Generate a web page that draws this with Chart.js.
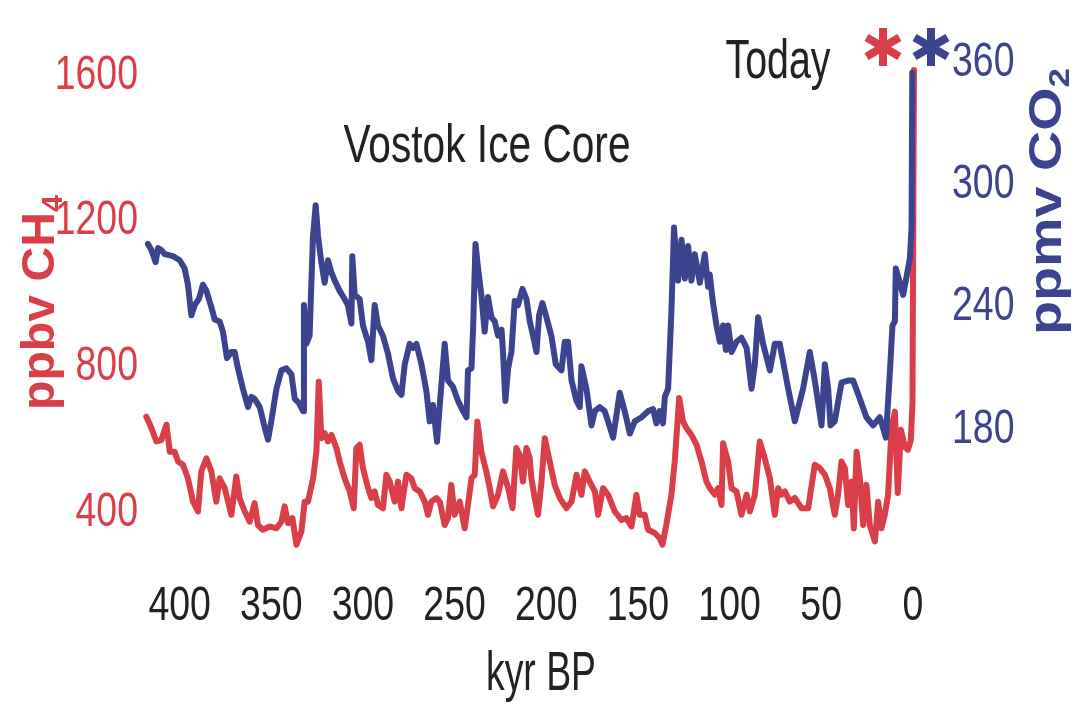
<!DOCTYPE html>
<html><head><meta charset="utf-8">
<script src="https://cdn.jsdelivr.net/npm/chart.js@4.4.1/dist/chart.umd.min.js"></script>
<style>html,body{margin:0;padding:0;background:#fff;}canvas{display:block;}</style>
</head><body>
<canvas id="c" width="1075" height="704"></canvas>
<script>
// ---- tick labels ----
const xTicks = [400, 350, 300, 250, 200, 150, 100, 50, 0];
const ch4Ticks = [400, 800, 1200, 1600];
const co2Ticks = [180, 240, 300, 360];

// ---- CO2 (ppmv) vs age (kyr BP) ----
const co2Age = [417.3,415.4,413.1,411.8,410.0,408.2,403.7,400.0,397.3,395.5,393.6,391.8,389.5,387.3,385.4,382.7,380.9,378.2,376.4,374.2,371.8,370.0,368.2,365.5,362.7,360.9,359.1,356.3,353.6,351.8,350.0,347.2,344.5,341.8,339.0,337.2,334.9,332.7,332.2,330.9,329.1,327.3,325.8,324.5,322.7,320.9,319.1,317.2,315.4,312.7,310.0,308.2,306.3,305.8,304.5,301.8,300.0,297.2,295.4,293.6,291.8,289.1,286.3,283.6,280.9,279.0,277.2,274.5,272.7,270.8,268.1,265.4,263.6,261.8,259.6,258.1,255.4,253.6,250.9,248.1,245.4,243.5,242.7,240.8,239.9,238.6,237.2,235.4,233.6,231.8,229.9,228.1,226.3,224.4,223.6,222.3,220.8,219.0,217.2,215.4,213.0,210.8,209.0,207.2,205.3,203.9,202.1,199.9,197.2,194.8,191.7,189.9,188.1,186.2,183.5,181.7,180.8,178.1,175.3,173.5,170.8,168.1,166.3,163.5,159.9,157.2,154.4,151.7,148.0,144.4,141.7,139.9,138.1,136.3,135.3,133.5,131.7,130.3,128.1,126.2,124.4,122.6,120.8,119.0,116.2,113.5,111.7,110.8,109.0,107.1,105.3,103.5,102.0,100.8,98.9,96.2,93.5,90.7,88.0,86.2,84.4,81.7,78.0,75.3,72.6,68.0,64.4,59.9,56.2,53.5,49.8,48.0,46.2,44.9,42.6,38.9,35.3,32.6,28.9,25.3,21.7,18.0,14.7,12.6,11.1,9.8,9.3,7.1,5.3,3.4,1.6,0.7,0.3];
const co2Ppmv = [271,268,262,269,268,266,265,263,259,251,236,241,244,251,248,240,234,233,228,215,218,218,210,200,191,196,195,191,181,175,184,200,209,210,207,195,193,189,241,222,226,274,290,275,262,252,263,257,253,248,244,241,232,265,246,244,231,223,214,241,231,226,217,205,199,197,212,222,220,222,212,199,184,192,174,192,222,204,201,194,189,186,209,210,230,271,259,246,228,245,235,233,226,229,218,194,210,218,243,241,249,244,233,226,218,236,242,235,226,212,209,223,223,204,194,191,211,200,182,189,191,189,184,176,198,189,178,184,186,189,190,183,189,183,196,200,238,279,253,273,254,270,253,266,252,266,250,256,242,231,223,231,219,231,218,223,225,220,200,212,235,222,209,222,222,200,184,200,218,204,182,212,200,182,184,203,204,204,195,186,182,186,176,207,231,233,259,252,246,255,264,279,355];

// ---- CH4 (ppbv) vs age (kyr BP) ----
const ch4Age = [418.2,415.4,412.7,410.0,407.2,405.4,402.7,400.9,398.2,395.5,392.7,390.0,388.2,385.4,382.7,380.0,378.2,375.4,373.6,371.8,369.1,367.3,364.5,361.8,359.1,357.3,354.6,350.9,347.2,344.5,342.7,340.9,338.5,336.3,333.6,331.8,330.0,327.2,325.4,324.1,322.7,320.9,319.1,317.2,314.5,312.7,310.0,307.2,305.0,303.6,301.8,300.0,297.2,295.4,293.6,291.8,289.1,287.2,285.4,282.7,280.9,279.0,276.3,273.6,271.8,269.0,266.3,264.5,262.7,259.9,258.1,255.4,253.6,251.8,250.0,247.2,244.5,242.7,240.8,239.0,237.6,235.4,232.7,230.8,229.0,226.3,223.6,220.8,218.4,216.3,214.5,212.7,210.8,209.0,208.1,206.3,204.5,202.6,200.8,198.1,195.4,192.6,189.0,186.2,183.5,180.8,179.0,176.3,173.5,171.7,169.0,166.3,162.6,159.0,156.3,153.5,150.8,149.0,146.3,144.4,140.8,138.1,136.6,134.5,131.7,129.9,127.5,125.4,123.5,120.8,118.0,115.3,112.6,110.8,108.0,106.2,104.4,103.5,100.8,98.9,96.2,93.5,90.7,88.9,86.2,83.5,80.8,78.0,75.3,73.5,71.7,69.8,67.1,64.4,60.7,57.1,53.5,50.8,48.0,45.3,42.6,40.8,38.9,37.1,35.3,33.4,32.2,30.7,28.9,27.1,25.3,23.5,20.7,18.9,17.1,15.3,13.5,11.6,9.8,8.2,6.5,4.4,2.7,1.1,0.2,-0.6];
const ch4Ppbv = [664,633,596,600,642,568,568,541,532,495,431,404,514,550,514,431,495,468,431,395,500,441,404,376,427,367,354,363,358,376,418,372,386,313,349,431,431,495,568,760,605,619,596,614,578,541,495,459,413,578,587,523,468,441,459,422,413,505,486,431,486,413,505,495,468,459,431,395,431,441,431,367,386,477,395,431,358,422,495,505,651,568,514,468,418,450,514,468,413,578,559,486,578,550,495,441,395,486,605,541,477,441,413,431,505,450,514,486,459,395,468,450,404,381,386,363,450,395,395,354,345,331,313,367,450,541,715,651,633,614,587,541,486,468,450,468,422,591,541,468,459,395,450,404,450,596,550,495,395,468,450,459,431,441,413,413,532,523,505,468,395,450,541,523,422,486,358,568,495,367,477,367,322,431,358,395,450,633,678,455,628,581,573,600,700,1615];

const FONT = "'Liberation Sans', Arial, sans-serif";
const RED = '#da3e48', BLUE = '#3c4490', INK = '#222222';
const TICK_SQUEEZE = 0.78;

function fitText(ctx, text, cx, baseline, size, width, weight) {
  ctx.save();
  ctx.font = (weight || 'normal') + ' ' + size + 'px ' + FONT;
  const w = ctx.measureText(text).width;
  ctx.translate(cx, baseline);
  ctx.scale(width / w, 1);
  ctx.textAlign = 'center';
  ctx.textBaseline = 'alphabetic';
  ctx.fillText(text, 0, 0);
  ctx.restore();
}
function rotTitle(ctx, text, sub, baseX, startY, size, len, color) {
  ctx.save();
  ctx.fillStyle = color;
  ctx.translate(baseX, startY);
  ctx.rotate(-Math.PI / 2);
  const big = 'bold ' + size + 'px ' + FONT;
  const small = 'bold ' + Math.round(size * 0.62) + 'px ' + FONT;
  ctx.font = big;
  const w1 = ctx.measureText(text).width;
  ctx.font = small;
  const w2 = ctx.measureText(sub).width;
  ctx.scale(len / (w1 + w2), 1);
  ctx.textBaseline = 'alphabetic';
  ctx.textAlign = 'left';
  ctx.font = big;
  ctx.fillText(text, 0, 0);
  ctx.font = small;
  ctx.fillText(sub, w1, size * 0.18);
  ctx.restore();
}
function star(ctx, cx, cy, r, color) {
  ctx.save();
  ctx.strokeStyle = color;
  ctx.lineWidth = 8;
  ctx.lineCap = 'butt';
  for (const a of [90, 30, 150]) {
    const t = a * Math.PI / 180;
    ctx.beginPath();
    ctx.moveTo(cx - r * Math.cos(t), cy - r * Math.sin(t));
    ctx.lineTo(cx + r * Math.cos(t), cy + r * Math.sin(t));
    ctx.stroke();
  }
  ctx.restore();
}

// condensed tick labels: squeeze each label horizontally around its own anchor
function condense(scale) {
  if (scale._condensed) return;
  scale._condensed = true;
  const orig = scale.drawLabels;
  scale.drawLabels = function (area) {
    const ctx = this.ctx;
    const of = ctx.fillText;
    ctx.fillText = function (t, x, y, mw) {
      this.save();
      this.translate(x, y);
      this.scale(TICK_SQUEEZE, 1);
      of.call(this, t, 0, 0);
      this.restore();
    };
    try { orig.call(this, area); } finally { ctx.fillText = of; delete ctx.fillText; }
  };
}

const annot = {
  id: 'annot',
  afterDraw(chart) {
    const ctx = chart.ctx;
    ctx.save();
    ctx.fillStyle = INK;
    fitText(ctx, 'Vostok Ice Core', 487, 162, 54, 287);
    fitText(ctx, 'Today', 778, 78, 56, 105);
    fitText(ctx, 'kyr BP', 541, 690, 56, 110);
    star(ctx, 883, 47, 19, RED);
    star(ctx, 931, 47, 19, BLUE);
    rotTitle(ctx, 'ppbv CH', '4', 54, 410, 46, 215, RED);
    rotTitle(ctx, 'ppmv CO', '2', 1061, 335, 46, 267, BLUE);
    ctx.restore();
  }
};

const tickFont = { family: FONT, size: 48 };
const plain = v => String(v);

new Chart(document.getElementById('c'), {
  type: 'line',
  data: {
    datasets: [
      {
        label: 'CO2',
        data: co2Age.map((a, i) => ({ x: a, y: co2Ppmv[i] })),
        yAxisID: 'yCO2',
        borderColor: BLUE,
        borderWidth: 6,
        pointRadius: 0,
        tension: 0,
        borderJoinStyle: 'round',
        borderCapStyle: 'round',
        clip: false,
        order: 0
      },
      {
        label: 'CH4',
        data: ch4Age.map((a, i) => ({ x: a, y: ch4Ppbv[i] })),
        yAxisID: 'yCH4',
        borderColor: RED,
        borderWidth: 6,
        pointRadius: 0,
        tension: 0,
        borderJoinStyle: 'round',
        borderCapStyle: 'round',
        clip: false,
        order: 1
      }
    ]
  },
  options: {
    responsive: false,
    animation: false,
    devicePixelRatio: 1,
    layout: { padding: { top: 40, left: 0, right: 0, bottom: 0 } },
    plugins: { legend: { display: false }, tooltip: { enabled: false }, title: { display: false } },
    scales: {
      x: {
        type: 'linear',
        reverse: true,
        min: -5,
        max: 420,
        grid: { display: false, drawTicks: false },
        border: { display: false },
        afterBuildTicks: s => { s.ticks = xTicks.map(v => ({ value: v })); },
        afterFit: s => { s.height = 144; s.paddingLeft = 0; s.paddingRight = 0; condense(s); },
        ticks: { font: tickFont, color: INK, padding: 18, maxRotation: 0, autoSkip: false, callback: plain }
      },
      yCH4: {
        type: 'linear',
        position: 'left',
        min: 271,
        max: 1697,
        grid: { display: false, drawTicks: false },
        border: { display: false },
        afterBuildTicks: s => { s.ticks = ch4Ticks.map(v => ({ value: v })); },
        afterFit: s => { s.width = 143; s.paddingTop = 0; s.paddingBottom = 0; condense(s); },
        ticks: { font: tickFont, color: RED, padding: 5, callback: plain }
      },
      yCO2: {
        type: 'linear',
        position: 'right',
        min: 116,
        max: 371,
        grid: { display: false, drawTicks: false },
        border: { display: false },
        afterBuildTicks: s => { s.ticks = co2Ticks.map(v => ({ value: v })); },
        afterFit: s => { s.width = 153; s.paddingTop = 0; s.paddingBottom = 0; condense(s); },
        ticks: { font: tickFont, color: BLUE, padding: 30, callback: plain }
      }
    }
  },
  plugins: [annot]
});
</script>
</body></html>
